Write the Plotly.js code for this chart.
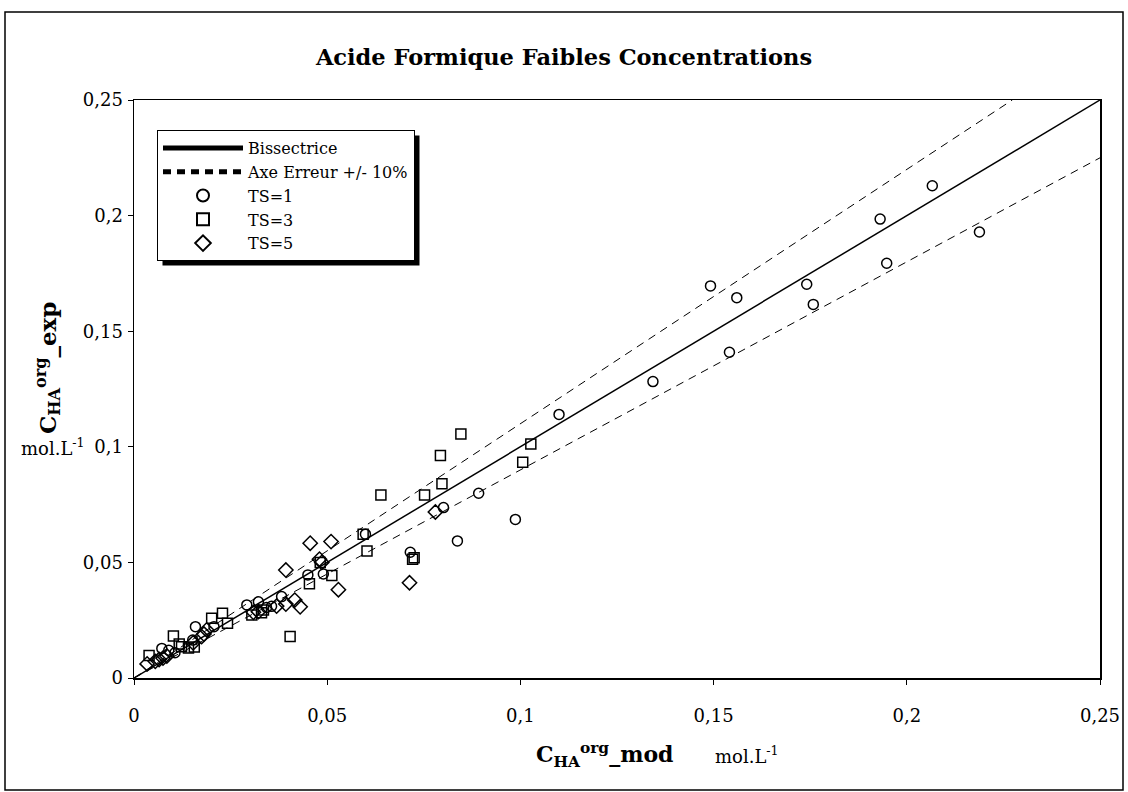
<!DOCTYPE html>
<html>
<head>
<meta charset="utf-8">
<script src="https://cdn.plot.ly/plotly-3.0.1.min.js"></script>
<style>
html,body{margin:0;padding:0;background:#fff;}
#chart{width:1128px;height:792px;}
</style>
</head>
<body>
<div id="chart"></div>
<script>
// ---- Data ----
const chartTitle = "Acide Formique Faibles Concentrations";
const tickVals = [0, 0.05, 0.1, 0.15, 0.2, 0.25];
const tickText = ["0", "0,05", "0,1", "0,15", "0,2", "0,25"];

const bisX = [0, 0.25];
const bisY = [0, 0.25];
const errX = [0, 0.2273, null, 0, 0.25];
const errY = [0, 0.25, null, 0, 0.225];

const ts1X = [0.2066, 0.1931, 0.2188, 0.1948, 0.1741, 0.1758, 0.1492, 0.1560, 0.1541, 0.1343,
              0.1100, 0.0892, 0.0987, 0.0801, 0.0837, 0.0715, 0.0599, 0.0490, 0.0450, 0.0382,
              0.0322, 0.0292, 0.0343, 0.0356, 0.0207, 0.0159, 0.0152, 0.0072, 0.0090, 0.0106];
const ts1Y = [0.2129, 0.1985, 0.1929, 0.1794, 0.1703, 0.1616, 0.1696, 0.1645, 0.1409, 0.1282,
              0.1140, 0.0799, 0.0686, 0.0737, 0.0593, 0.0544, 0.0622, 0.0450, 0.0446, 0.0352,
              0.0330, 0.0316, 0.0305, 0.0310, 0.0222, 0.0222, 0.0164, 0.0128, 0.0120, 0.0109];

const ts3X = [0.1027, 0.1006, 0.0846, 0.0793, 0.0797, 0.0752, 0.0639, 0.0721, 0.0725, 0.0593,
              0.0603, 0.0512, 0.0454, 0.0404, 0.0482, 0.0305, 0.0330, 0.0335, 0.0201, 0.0229,
              0.0242, 0.0102, 0.0117, 0.0123, 0.0141, 0.0156, 0.0039];
const ts3Y = [0.1012, 0.0933, 0.1055, 0.0962, 0.0840, 0.0792, 0.0792, 0.0514, 0.0520, 0.0622,
              0.0549, 0.0443, 0.0408, 0.0179, 0.0500, 0.0272, 0.0282, 0.0294, 0.0258, 0.0280,
              0.0237, 0.0182, 0.0147, 0.0135, 0.0130, 0.0134, 0.0097];

const ts5X = [0.0780, 0.0713, 0.0510, 0.0456, 0.0480, 0.0486, 0.0529, 0.0393, 0.0416, 0.0393,
              0.0430, 0.0322, 0.0369, 0.0309, 0.0188, 0.0181, 0.0175, 0.0153, 0.0034, 0.0055,
              0.0065, 0.0075, 0.0085];
const ts5Y = [0.0718, 0.0412, 0.0590, 0.0583, 0.0514, 0.0500, 0.0382, 0.0467, 0.0337, 0.0320,
              0.0308, 0.0287, 0.0311, 0.0284, 0.0208, 0.0190, 0.0179, 0.0152, 0.0061, 0.0072,
              0.0080, 0.0086, 0.0095];

// ---- Layout helpers ----
const W = 1128, H = 792;
const M = {l: 134, r: 28, t: 100, b: 114};
const PW = W - M.l - M.r, PH = H - M.t - M.b;
const px = v => (v - M.l) / PW;
const py = v => (H - M.b - v) / PH;

const FONT = "DejaVu Serif, Liberation Serif, serif";
const mk = {color: "#000", line: {color: "#000", width: 1.5}};

const traces = [
  {x: bisX, y: bisY, mode: "lines", name: "Bissectrice", line: {color: "#000", width: 1.5}},
  {x: errX, y: errY, mode: "lines", name: "Axe Erreur +/- 10%", line: {color: "#000", width: 1, dash: "8px,6px"}},
  {x: ts1X, y: ts1Y, mode: "markers", name: "TS=1", marker: Object.assign({}, mk, {symbol: "circle-open", size: 10})},
  {x: ts3X, y: ts3Y, mode: "markers", name: "TS=3", marker: Object.assign({}, mk, {symbol: "square-open", size: 10})},
  {x: ts5X, y: ts5Y, mode: "markers", name: "TS=5", marker: Object.assign({}, mk, {symbol: "diamond-open", size: 11})}
];

const axisCommon = {
  range: [0, 0.25], tickvals: tickVals, ticktext: tickText,
  showgrid: false, zeroline: false, showline: true, linecolor: "#000", linewidth: 1.5,
  mirror: true, ticks: "outside", ticklen: 5, tickwidth: 1, tickcolor: "#000",
  tickfont: {family: FONT, size: 18, color: "#000"}
};

const layout = {
  width: W, height: H,
  margin: M,
  paper_bgcolor: "#fff", plot_bgcolor: "#fff",
  title: {text: "<b>" + chartTitle + "</b>", font: {family: FONT, size: 22.5, color: "#000"},
          x: 0.5, xref: "container", xanchor: "center", y: 1 - 57 / H, yref: "container", yanchor: "middle"},
  xaxis: Object.assign({}, axisCommon, {ticklabelstandoff: 16}),
  yaxis: Object.assign({}, axisCommon, {ticklabelstandoff: 1}),
  showlegend: true,
  legend: {x: px(157), y: py(130), xanchor: "left", yanchor: "top",
           bgcolor: "#fff", bordercolor: "#000", borderwidth: 1,
           font: {family: FONT, size: 16, color: "#000"}, itemwidth: 80,
           tracegroupgap: 0, itemsizing: "constant"},
  shapes: [
    {type: "rect", xref: "paper", yref: "paper", x0: px(5), x1: px(1123), y0: py(790), y1: py(12),
     line: {color: "#000", width: 1.5}, fillcolor: "rgba(0,0,0,0)", layer: "below"},
    {type: "rect", xref: "paper", yref: "paper", x0: px(162), x1: px(423), y0: py(267), y1: py(135),
     line: {width: 0}, fillcolor: "#000", layer: "above"}
  ],
  annotations: [
    {text: "<b>C<sub>HA</sub><sup>org</sup>_exp</b>", xref: "paper", yref: "paper",
     x: px(47), y: py(368), textangle: -90, showarrow: false,
     font: {family: FONT, size: 23, color: "#000"}, xanchor: "center", yanchor: "middle"},
    {text: "mol.L<sup>-1</sup>", xref: "paper", yref: "paper",
     x: px(53), y: py(447), showarrow: false,
     font: {family: FONT, size: 18, color: "#000"}, xanchor: "center", yanchor: "middle"},
    {text: "<b>C<sub>HA</sub><sup>org</sup>_mod</b>", xref: "paper", yref: "paper",
     x: px(604), y: py(755), showarrow: false,
     font: {family: FONT, size: 22, color: "#000"}, xanchor: "center", yanchor: "middle"},
    {text: "mol.L<sup>-1</sup>", xref: "paper", yref: "paper",
     x: px(713), y: py(755), showarrow: false,
     font: {family: FONT, size: 18, color: "#000"}, xanchor: "left", yanchor: "middle"}
  ],
  separators: ", "
};

Plotly.newPlot("chart", traces, layout, {displayModeBar: false, staticPlot: true}).then(gd => {
  // place the legend's drop shadow from the legend's drawn box
  const bg = gd.querySelector(".legend .bg");
  if (!bg) return;
  const r = bg.getBoundingClientRect();
  const g = gd.getBoundingClientRect();
  const L = r.left - g.left, T = r.top - g.top, R = r.right - g.left, B = r.bottom - g.top;
  const off = 5;
  Plotly.relayout(gd, {
    "shapes[1].x0": px(L + off), "shapes[1].x1": px(R + off),
    "shapes[1].y0": py(B + off), "shapes[1].y1": py(T + off)
  });
});
</script>
</body>
</html>
